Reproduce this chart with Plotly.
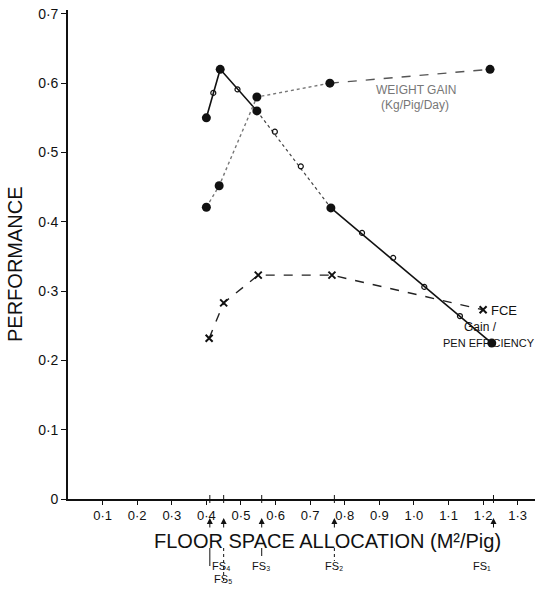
import plotly.graph_objects as go

# ---------------- data ----------------
pen_x = [0.40, 0.44, 0.546, 0.76, 1.225]
pen_y = [0.55, 0.62, 0.56, 0.42, 0.225]

pen_open_x = [0.42, 0.49, 0.598, 0.673, 0.85, 0.94, 1.03, 1.133]
pen_open_y = [0.586, 0.591, 0.53, 0.48, 0.384, 0.348, 0.306, 0.264]

gain_x = [0.40, 0.437, 0.546, 0.757, 1.22]
gain_y = [0.421, 0.452, 0.58, 0.60, 0.62]

fce_x = [0.408, 0.45, 0.55, 0.763, 1.20]
fce_y = [0.232, 0.283, 0.323, 0.323, 0.273]

x_ticks = [0.1, 0.2, 0.3, 0.4, 0.5, 0.6, 0.7, 0.8, 0.9, 1.0, 1.1, 1.2, 1.3]
x_tick_text = ["0·1", "0·2", "0·3", "0·4", "0·5", "0·6", "0·7", "0·8", "0·9", "1·0", "1·1", "1·2", "1·3"]
y_ticks = [0, 0.1, 0.2, 0.3, 0.4, 0.5, 0.6, 0.7]
y_tick_text = ["0", "0·1", "0·2", "0·3", "0·4", "0·5", "0·6", "0·7"]

fs_x = [0.41, 0.45, 0.56, 0.77, 1.23]
fs_labels = ["FS₄", "FS₅", "FS₃", "FS₂", "FS₁"]

# ---------------- layout geometry ----------------
W, H = 536, 594
ML, MR, MT, MB = 68, 1, 10, 95
PW, PH = W - ML - MR, H - MT - MB
XMAX = 1.35
YMAX = 0.7056


def px_x(px):  # pixel -> paper x
    return (px - ML) / PW


def px_y(py):  # pixel -> paper y
    return (H - MB - py) / PH


def dx(v):  # data x -> paper x
    return v / XMAX


FONT = "Liberation Sans"
BLACK = "#111111"

fig = go.Figure()

# Pen efficiency line: solid, dotted middle part, solid
fig.add_trace(go.Scatter(x=pen_x[:3], y=pen_y[:3], mode="lines",
                         line=dict(color=BLACK, width=1.6), showlegend=False))
fig.add_trace(go.Scatter(x=pen_x[2:4], y=pen_y[2:4], mode="lines",
                         line=dict(color="#444444", width=1.2, dash="dot"), showlegend=False))
fig.add_trace(go.Scatter(x=pen_x[3:], y=pen_y[3:], mode="lines",
                         line=dict(color=BLACK, width=1.6), showlegend=False))

# Weight gain line: dotted then dashed
fig.add_trace(go.Scatter(x=gain_x[:4], y=gain_y[:4], mode="lines",
                         line=dict(color="#777777", width=1.4, dash="dot"), showlegend=False))
fig.add_trace(go.Scatter(x=gain_x[3:], y=gain_y[3:], mode="lines",
                         line=dict(color="#555555", width=1.4, dash="dash"), showlegend=False))

# FCE line
fig.add_trace(go.Scatter(x=fce_x, y=fce_y, mode="lines+markers",
                         line=dict(color="#222222", width=1.4, dash="dash"),
                         marker=dict(symbol="x-thin", size=7, line=dict(color=BLACK, width=2)),
                         showlegend=False))

# Markers
fig.add_trace(go.Scatter(x=pen_open_x, y=pen_open_y, mode="markers",
                         marker=dict(symbol="circle-open", size=5, color=BLACK, line=dict(width=1.2)),
                         showlegend=False))
fig.add_trace(go.Scatter(x=pen_x, y=pen_y, mode="markers",
                         marker=dict(symbol="circle", size=9, color=BLACK), showlegend=False))
fig.add_trace(go.Scatter(x=gain_x, y=gain_y, mode="markers",
                         marker=dict(symbol="circle", size=9, color=BLACK), showlegend=False))

annotations = []
shapes = []

# Axis titles
annotations.append(dict(text="FLOOR SPACE ALLOCATION (M²/Pig)", xref="paper", yref="paper",
                        x=px_x(327), y=px_y(541), showarrow=False,
                        font=dict(family=FONT, size=20, color=BLACK),
                        xanchor="center", yanchor="middle"))
annotations.append(dict(text="PERFORMANCE", xref="paper", yref="paper",
                        x=px_x(15), y=px_y(264), showarrow=False, textangle=-90,
                        font=dict(family=FONT, size=20, color=BLACK),
                        xanchor="center", yanchor="middle"))

# Series labels
annotations.append(dict(text="WEIGHT GAIN", xref="paper", yref="paper", x=px_x(458), y=px_y(81),
                        showarrow=False, font=dict(family=FONT, size=12, color="#777777")))
annotations.append(dict(text="(Kg/Pig/Day)", xref="paper", yref="paper", x=px_x(451), y=px_y(96),
                        showarrow=False, font=dict(family=FONT, size=12, color="#777777")))
annotations.append(dict(text="FCE", xref="paper", yref="paper", x=px_x(489), y=px_y(310),
                        xanchor="left", showarrow=False, font=dict(family=FONT, size=13, color=BLACK)))
annotations.append(dict(text="Gain /", xref="paper", yref="paper", x=px_x(499), y=px_y(327),
                        showarrow=False, font=dict(family=FONT, size=12, color=BLACK)))
annotations.append(dict(text="PEN EFFICIENCY", xref="paper", yref="paper", x=px_x(441), y=px_y(351),
                        xanchor="left", showarrow=False, font=dict(family=FONT, size=11, color=BLACK)))

# FS markers below the axis
fs_label_y = [574, 587, 574, 574, 574]
fs_line = [(548, 566, "solid"), (548, 584, "dot"), (548, 556, "solid"), (548, 561, "dot"), None]
for v, lab, ly, ln in zip(fs_x, fs_labels, fs_label_y, fs_line):
    annotations.append(dict(text="", xref="paper", yref="paper", x=dx(v), y=px_y(518),
                            ax=0, ay=11, showarrow=True, arrowhead=2, arrowsize=1.2,
                            arrowwidth=1, arrowcolor=BLACK))
    annotations.append(dict(text=lab, xref="paper", yref="paper", x=dx(v), y=px_y(ly),
                            showarrow=False, font=dict(family=FONT, size=11, color=BLACK)))
    # extra tick on the axis
    shapes.append(dict(type="line", xref="paper", yref="paper", x0=dx(v), x1=dx(v),
                       y0=px_y(503), y1=px_y(495), line=dict(color=BLACK, width=1)))
    if ln:
        shapes.append(dict(type="line", xref="paper", yref="paper", x0=dx(v), x1=dx(v),
                           y0=px_y(ln[0]), y1=px_y(ln[1]),
                           line=dict(color=BLACK, width=1, dash=ln[2])))

fig.update_layout(
    width=W, height=H,
    margin=dict(l=ML, r=MR, t=MT, b=MB, pad=0),
    paper_bgcolor="white", plot_bgcolor="white",
    annotations=annotations, shapes=shapes,
    xaxis=dict(range=[0, XMAX], tickvals=x_ticks, ticktext=x_tick_text,
               showgrid=False, zeroline=False, showline=True, linecolor=BLACK, linewidth=1.6,
               ticks="outside", ticklen=4, tickcolor=BLACK, tickwidth=1,
               ticklabeloverflow="allow",
               tickfont=dict(family=FONT, size=13, color=BLACK)),
    yaxis=dict(range=[0, YMAX], tickvals=y_ticks, ticktext=y_tick_text,
               showgrid=False, zeroline=False, showline=True, linecolor=BLACK, linewidth=1.6,
               ticks="outside", ticklen=5, tickcolor=BLACK, tickwidth=1.2,
               tickfont=dict(family=FONT, size=14, color=BLACK)),
)

fig.write_html("out.html", config={"displayModeBar": False},
               post_script="document.body.style.margin='0';document.body.style.overflow='hidden';")
